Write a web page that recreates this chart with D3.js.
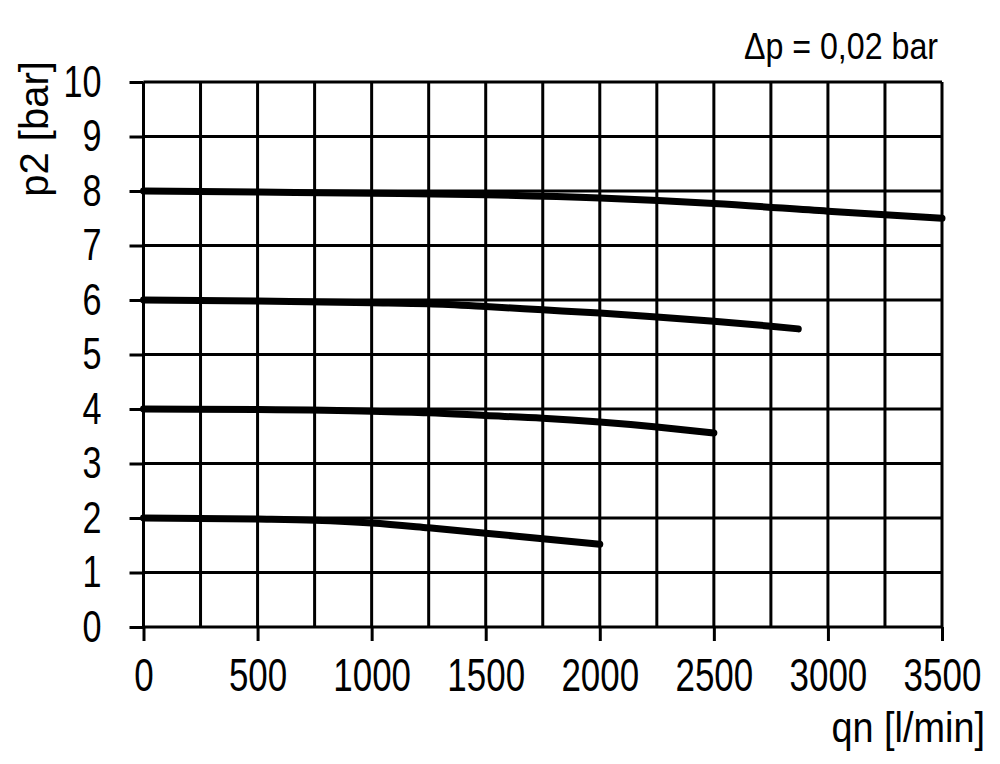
<!DOCTYPE html>
<html>
<head>
<meta charset="utf-8">
<script src="https://cdn.jsdelivr.net/npm/d3@7"></script>
<style>
  body { margin: 0; background: #fff; }
  svg text { font-family: "Liberation Sans", Arial, sans-serif; fill: #000; }
  .grid line { stroke: #000; stroke-width: 3; }
  .curve { fill: none; stroke: #000; stroke-width: 7; stroke-linecap: round; stroke-linejoin: round; }
</style>
</head>
<body>
<script>
var width = 1000,
    height = 764,
    narrow = 0.76; // the labels use a condensed face, squeeze Liberation Sans

// tick values
var xTicks = [0, 500, 1000, 1500, 2000, 2500, 3000, 3500];
var yTicks = [0, 1, 2, 3, 4, 5, 6, 7, 8, 9, 10];
var xGrid = d3.range(0, 3501, 250);

// curves, one per set pressure (qn in l/min, p2 in bar)
var qn8 = [0, 500, 1000, 1500, 2000, 2500, 3000, 3500];
var p8  = [8.0, 7.98, 7.96, 7.93, 7.87, 7.77, 7.63, 7.50];

var qn6 = [0, 500, 1000, 1250, 1500, 1750, 2000, 2250, 2500, 2750, 2870];
var p6  = [6.0, 5.98, 5.95, 5.93, 5.88, 5.82, 5.76, 5.69, 5.61, 5.52, 5.47];

var qn4 = [0, 500, 1000, 1250, 1500, 1750, 2000, 2250, 2500];
var p4  = [4.0, 3.99, 3.96, 3.93, 3.88, 3.83, 3.76, 3.67, 3.56];

var qn2 = [0, 500, 750, 1000, 1250, 1500, 1750, 2000];
var p2  = [2.0, 1.98, 1.96, 1.91, 1.82, 1.72, 1.62, 1.52];

var series = [[qn8, p8], [qn6, p6], [qn4, p4], [qn2, p2]].map(function(s) {
  return s[0].map(function(q, i) { return [q, s[1][i]]; });
});

var x = d3.scaleLinear().domain([0, 3500]).range([143.5, 942]);
var y = d3.scaleLinear().domain([0, 10]).range([627, 82]);

var svg = d3.select("body")
  .append("svg")
  .attr("width", width)
  .attr("height", height);

// squeeze a text horizontally around the point ax
function squeeze(sel, ax, s) {
  sel.attr("transform", "translate(" + ax + ",0) scale(" + s + ",1) translate(" + (-ax) + ",0)");
}

// grid
var grid = svg.append("g").attr("class", "grid");
grid.selectAll(".v")
  .data(xGrid)
  .enter()
  .append("line")
  .attr("class", "v")
  .attr("x1", function(d) { return x(d); })
  .attr("x2", function(d) { return x(d); })
  .attr("y1", y(10))
  .attr("y2", y(0));
grid.selectAll(".h")
  .data(yTicks)
  .enter()
  .append("line")
  .attr("class", "h")
  .attr("x1", x(0))
  .attr("x2", x(3500))
  .attr("y1", function(d) { return y(d); })
  .attr("y2", function(d) { return y(d); });

// axes
var xAxis = d3.axisBottom(x)
  .tickValues(xTicks)
  .tickSize(14)
  .tickPadding(17)
  .tickFormat(d3.format("d"));
var yAxis = d3.axisLeft(y)
  .tickValues(yTicks)
  .tickSize(14)
  .tickPadding(28)
  .tickFormat(d3.format("d"));

svg.append("g")
  .attr("transform", "translate(0," + y(0) + ")")
  .call(xAxis)
  .call(function(g) {
    g.select(".domain").remove();
    g.selectAll("line").attr("stroke", "#000").attr("stroke-width", 3);
    g.selectAll("text").attr("font-size", 46).attr("fill", "#000")
      .call(squeeze, 0, narrow);
  });

svg.append("g")
  .attr("transform", "translate(" + x(0) + ",0)")
  .call(yAxis)
  .call(function(g) {
    g.select(".domain").remove();
    g.selectAll("line").attr("stroke", "#000").attr("stroke-width", 3);
    g.selectAll("text").attr("font-size", 45).attr("fill", "#000")
      .call(squeeze, -42, narrow);
  });

// curves
var line = d3.line()
  .x(function(d) { return x(d[0]); })
  .y(function(d) { return y(d[1]); })
  .curve(d3.curveMonotoneX);

svg.selectAll(".curve")
  .data(series)
  .enter()
  .append("path")
  .attr("class", "curve")
  .attr("d", line);

// labels
svg.append("text")
  .attr("x", 938)
  .attr("y", 59)
  .attr("text-anchor", "end")
  .attr("font-size", 37)
  .call(squeeze, 938, 0.87)
  .text("\u0394p = 0,02 bar");

svg.append("text")
  .attr("transform", "translate(48,129) rotate(-90)")
  .attr("text-anchor", "middle")
  .attr("font-size", 40)
  .text("p2 [bar]");

svg.append("text")
  .attr("x", 985)
  .attr("y", 742)
  .attr("text-anchor", "end")
  .attr("font-size", 43)
  .call(squeeze, 985, 0.88)
  .text("qn [l/min]");
</script>
</body>
</html>
